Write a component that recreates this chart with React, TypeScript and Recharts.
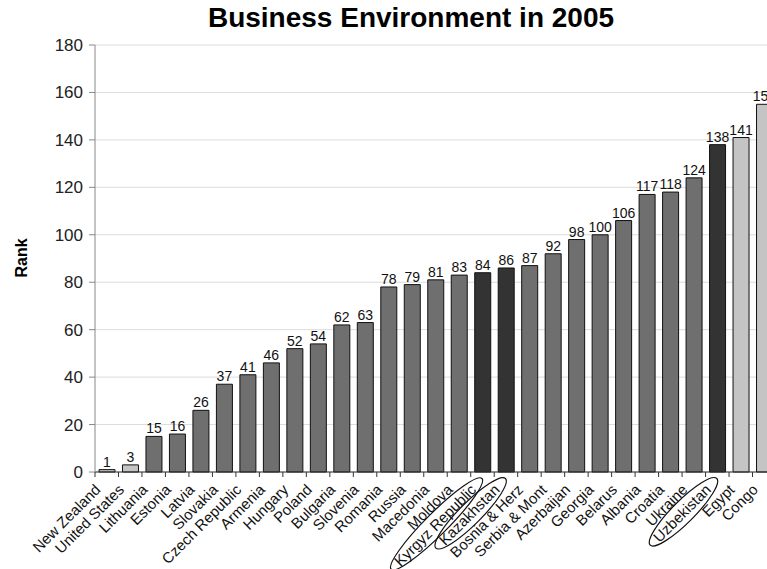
import React from "react";
import { BarChart, Bar, XAxis, YAxis, CartesianGrid, Cell, LabelList } from "recharts";

const countries = [
  "New Zealand", "United States", "Lithuania", "Estonia", "Latvia", "Slovakia",
  "Czech Republic", "Armenia", "Hungary", "Poland", "Bulgaria", "Slovenia",
  "Romania", "Russia", "Macedonia", "Moldova", "Kyrgyz Republic", "Kazakhstan",
  "Bosnia & Herz", "Serbia & Mont", "Azerbaijan", "Georgia", "Belarus", "Albania",
  "Croatia", "Ukraine", "Uzbekistan", "Egypt", "Congo",
];
const ranks = [
  1, 3, 15, 16, 26, 37, 41, 46, 52, 54, 62, 63, 78, 79, 81, 83, 84, 86, 87, 92,
  98, 100, 106, 117, 118, 124, 138, 141, 155,
];
// group: 0 = reference (light), 1 = transition, 2 = highlighted (dark)
const groups = [
  0, 0, 1, 1, 1, 1, 1, 1, 1, 1, 1, 1, 1, 1, 1, 1, 2, 2, 1, 1, 1, 1, 1, 1, 1, 1,
  2, 0, 0,
];
const circled = ["Kyrgyz Republic", "Kazakhstan", "Uzbekistan"];
const yTicks = [0, 20, 40, 60, 80, 100, 120, 140, 160, 180];

const fills = ["#c4c4c4", "#6f6f6f", "#333333"];
const data = countries.map((name, i) => ({ name, rank: ranks[i], group: groups[i] }));

const FONT = "'Liberation Sans', Arial, sans-serif";
const BAND = 23.48;
const TICK_FONT = 15;

let ctx: CanvasRenderingContext2D | null = null;
function textWidth(s: string) {
  if (!ctx) ctx = document.createElement("canvas").getContext("2d");
  if (!ctx) return s.length * TICK_FONT * 0.5;
  ctx.font = `${TICK_FONT}px ${FONT}`;
  return ctx.measureText(s).width;
}

function CountryTick(props: any) {
  const { x, y, payload } = props;
  const label: string = payload.value;
  const len = textWidth(label);
  return (
    <g>
      <line x1={x - BAND / 2} y1={y} x2={x - BAND / 2} y2={y + 5} stroke="#333" />
      <g transform={`translate(${x - 9},${y + 15}) rotate(-45)`}>
        <text
          x={0}
          y={0}
          dy="0.35em"
          textAnchor="end"
          fontSize={TICK_FONT}
          fontFamily={FONT}
          fill="#111"
        >
          {label}
        </text>
        {circled.includes(label) && (
          <ellipse
            cx={-len / 2 + 2}
            cy={0}
            rx={len / 2 + 10}
            ry={11}
            fill="none"
            stroke="#111"
            strokeWidth={1.2}
          />
        )}
      </g>
    </g>
  );
}

export default function App() {
  return (
    <div
      style={{
        position: "absolute",
        left: 0,
        top: 0,
        width: 767,
        height: 569,
        overflow: "hidden",
        background: "#fff",
      }}
    >
      <div
        style={{
          position: "absolute",
          left: 411,
          top: 2,
          transform: "translateX(-50%)",
          whiteSpace: "nowrap",
          fontFamily: FONT,
          fontWeight: "bold",
          fontSize: 28,
        }}
      >
        Business Environment in 2005
      </div>
      <div
        style={{
          position: "absolute",
          left: 2,
          top: 258,
          transform: "translate(0,-50%) rotate(-90deg)",
          fontFamily: FONT,
          fontWeight: "bold",
          fontSize: 16,
        }}
      >
        Rank
      </div>
      <BarChart
        width={780}
        height={569}
        data={data}
        margin={{ top: 45, right: 4, bottom: 0, left: 0 }}
        barSize={16}
      >
        <CartesianGrid vertical={false} stroke="#dcdcdc" />
        <XAxis
          dataKey="name"
          interval={0}
          height={97}
          tickSize={0}
          tickMargin={0}
          tickLine={false}
          axisLine={{ stroke: "#333" }}
          tick={<CountryTick />}
        />
        <YAxis
          width={95}
          domain={[0, 180]}
          ticks={yTicks}
          interval={0}
          tickSize={6}
          tickMargin={6}
          axisLine={{ stroke: "#888" }}
          tickLine={{ stroke: "#888" }}
          tick={{ fontSize: 17, fontFamily: FONT, fill: "#222" }}
        />
        <Bar dataKey="rank" isAnimationActive={false} stroke="#111" strokeWidth={1}>
          {data.map((d, i) => (
            <Cell key={`c-${i}`} fill={fills[d.group]} />
          ))}
          <LabelList
            dataKey="rank"
            position="top"
            offset={3}
            style={{ fontSize: 14, fontFamily: FONT, fill: "#111" }}
          />
        </Bar>
      </BarChart>
    </div>
  );
}
